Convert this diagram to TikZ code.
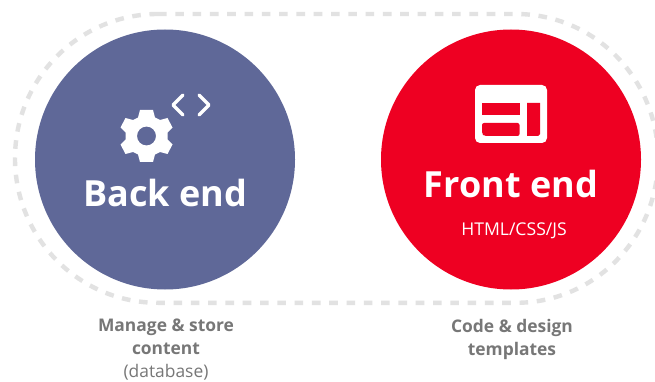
\documentclass[tikz,border=0pt]{standalone}
\usepackage{fontspec}
\setmainfont{Open Sans}
\definecolor{backc}{HTML}{5F6898}
\definecolor{frontc}{HTML}{EE0022}
\definecolor{dashc}{HTML}{E2E2E2}
\definecolor{capc}{HTML}{777777}
\tikzset{
  disc/.style={circle,minimum size=260pt,inner sep=0pt},
  title/.style={text=white,font=\bfseries\fontsize{36}{40}\selectfont,inner sep=0pt},
  small/.style={text=white,font=\fontsize{17.6}{20}\selectfont,inner sep=0pt},
  caption/.style={text=capc,font=\fontsize{17.4}{23}\selectfont,align=center,inner sep=0pt},
}
\begin{document}
\begin{tikzpicture}[x=1pt,y=-1pt]
\useasboundingbox (0,0) rectangle (655,382);
\fill[white] (0,0) rectangle (655,382);
\begin{scope}
\clip (0,0) rectangle (655,382);
\draw[dashc,line width=4.4pt,dash pattern=on 8.6pt off 8.7pt]
  (158,14) -- (516,14) arc[start angle=-90,end angle=90,x radius=142,y radius=144.4] -- (158,302.8) arc[start angle=90,end angle=270,x radius=143,y radius=144.4] -- cycle;
\end{scope}
\node[disc,fill=backc] (back) at (165,159.5) {};
\node[disc,fill=frontc] (front) at (511,159.5) {};
\node[title,anchor=base] (backt) at (165,206) {Back end};
\node[title,anchor=base] (frontt) at (511,197) {Front end};
\node[small,anchor=base] (sub) at (514,235) {HTML/CSS/JS};
\node[caption,anchor=north] (cap1) at (166,319) {\textbf{Manage \& store}\\\textbf{content}\\(database)};
\node[caption,anchor=north] (cap2) at (512,319.5) {\textbf{Code \& design}\\\textbf{templates}};
% gear
\begin{scope}[shift={(146.5,136)}]
\fill[white,even odd rule]
  (-6.5,-26) -- (6.5,-26) -- (8.5,-18.5) -- (13.5,-16) -- (21,-18) -- (26,-8.5) -- (21,-3.5) -- (21,3.5) -- (26,8.5) -- (21,18) -- (13.5,16) -- (8.5,18.5) -- (6.5,26) -- (-6.5,26) -- (-8.5,18.5) -- (-13.5,16) -- (-21,18) -- (-26,8.5) -- (-21,3.5) -- (-21,-3.5) -- (-26,-8.5) -- (-21,-18) -- (-13.5,-16) -- (-8.5,-18.5) -- cycle
  (0,0) circle[radius=9.5];
\end{scope}
\draw[white,line width=3.2pt,line cap=round,line join=round] (183,95) -- (173,105) -- (183,115);
\draw[white,line width=3.2pt,line cap=round,line join=round] (199,95) -- (209,105) -- (199,115);
% page icon
\fill[white,rounded corners=5pt] (475,85) rectangle (547,143);
\fill[frontc] (482,103) rectangle (519.5,115);
\fill[frontc,rounded corners=2pt] (482,123) -- (519.5,123) -- (519.5,136) -- (484,136) -- (482,134) -- cycle;
\fill[frontc] (527,103) -- (540,103) -- (540,134) -- (538,136) -- (527,136) -- cycle;
\end{tikzpicture}
\end{document}
